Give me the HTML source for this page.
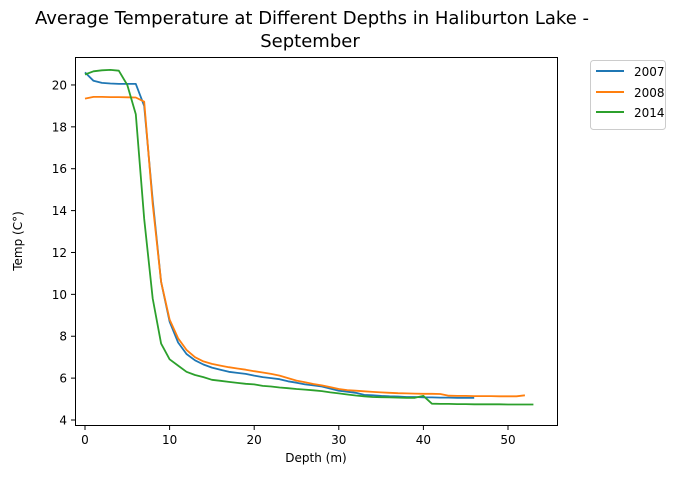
<!DOCTYPE html>
<html><head><meta charset="utf-8"><style>
body{margin:0;background:#fff;}
svg text{font-family:"DejaVu Sans","Liberation Sans",sans-serif;fill:#000;}
</style></head><body>
<svg id="chart" width="685" height="475" xmlns="http://www.w3.org/2000/svg">
<text x="312" y="24" font-size="18" text-anchor="middle">Average Temperature at Different Depths in Haliburton Lake -</text>
<text x="310" y="47" font-size="18" text-anchor="middle">September</text>
<g id="plot"></g>
<rect x="75.5" y="57.5" width="482" height="368" fill="none" stroke="#000" stroke-width="1"/>
<text x="316" y="462" font-size="12" text-anchor="middle">Depth (m)</text>
<text transform="translate(22,241) rotate(-90)" font-size="12" text-anchor="middle">Temp (C°)</text>
<g>
<rect x="590.5" y="60.5" width="75" height="69" rx="3" fill="#fff" stroke="#ccc"/>
<line x1="596" y1="71" x2="624" y2="71" stroke="#1f77b4" stroke-width="2"/>
<text x="634" y="76" font-size="12">2007</text>
<line x1="596" y1="92" x2="624" y2="92" stroke="#ff7f0e" stroke-width="2"/>
<text x="634" y="97" font-size="12">2008</text>
<line x1="596" y1="112" x2="624" y2="112" stroke="#2ca02c" stroke-width="2"/>
<text x="634" y="117" font-size="12">2014</text>
</g>
</svg>
<script>
const xTicks=[0,10,20,30,40,50];
const yTicks=[4,6,8,10,12,14,16,18,20];
const t2007=[20.6,20.2,20.1,20.07,20.05,20.05,20.05,19.0,14.5,10.6,8.7,7.7,7.15,6.85,6.65,6.5,6.4,6.3,6.25,6.2,6.12,6.05,6.0,5.95,5.85,5.78,5.7,5.65,5.6,5.5,5.4,5.35,5.3,5.2,5.18,5.15,5.13,5.12,5.1,5.1,5.08,5.08,5.07,5.07,5.06,5.06,5.06];
const t2008=[19.35,19.43,19.43,19.42,19.42,19.41,19.4,19.2,14.3,10.6,8.8,7.9,7.35,7.0,6.8,6.68,6.6,6.52,6.46,6.4,6.33,6.27,6.2,6.12,6.0,5.88,5.8,5.72,5.65,5.57,5.48,5.43,5.4,5.37,5.34,5.32,5.3,5.28,5.27,5.26,5.25,5.25,5.24,5.16,5.15,5.15,5.14,5.14,5.14,5.13,5.13,5.13,5.18];
const t2014=[20.5,20.65,20.7,20.72,20.68,20.0,18.6,13.6,9.8,7.65,6.9,6.6,6.3,6.15,6.05,5.92,5.87,5.82,5.77,5.73,5.7,5.63,5.6,5.55,5.52,5.48,5.45,5.42,5.38,5.32,5.27,5.22,5.17,5.13,5.1,5.09,5.08,5.07,5.06,5.06,5.15,4.78,4.77,4.77,4.76,4.76,4.75,4.75,4.75,4.75,4.74,4.74,4.74,4.74];
const xs=d=>85+8.46*d;
const ys=t=>420-(t-4)*20.94;
const NS="http://www.w3.org/2000/svg";
const g=document.getElementById('plot');
function mk(tag,attrs){const e=document.createElementNS(NS,tag);for(const k in attrs)e.setAttribute(k,attrs[k]);g.appendChild(e);return e;}
xTicks.forEach(v=>{
 const l=mk('line',{x1:xs(v),x2:xs(v),y1:425.5,y2:430,stroke:'#000'});
 
 
 const t=mk('text',{x:xs(v),y:444,'font-size':12,'text-anchor':'middle'});
 t.textContent=v;
 
 
});
yTicks.forEach(v=>{
 const l=mk('line',{x1:71,x2:75.5,y1:ys(v),y2:ys(v),stroke:'#000'});
 
 
 const t=mk('text',{x:67,y:ys(v)+4.5,'font-size':12,'text-anchor':'end'});
 t.textContent=v;
 
 
});
[[t2007,'#1f77b4','line-2007'],[t2008,'#ff7f0e','line-2008'],[t2014,'#2ca02c','line-2014']].forEach(([arr,c,n])=>{
 const p=mk('polyline',{points:arr.map((t,i)=>xs(i).toFixed(1)+','+ys(t).toFixed(1)).join(' '),fill:'none',stroke:c,'stroke-width':1.8,'stroke-linejoin':'round'});
 
 
});
</script>
</body></html>
